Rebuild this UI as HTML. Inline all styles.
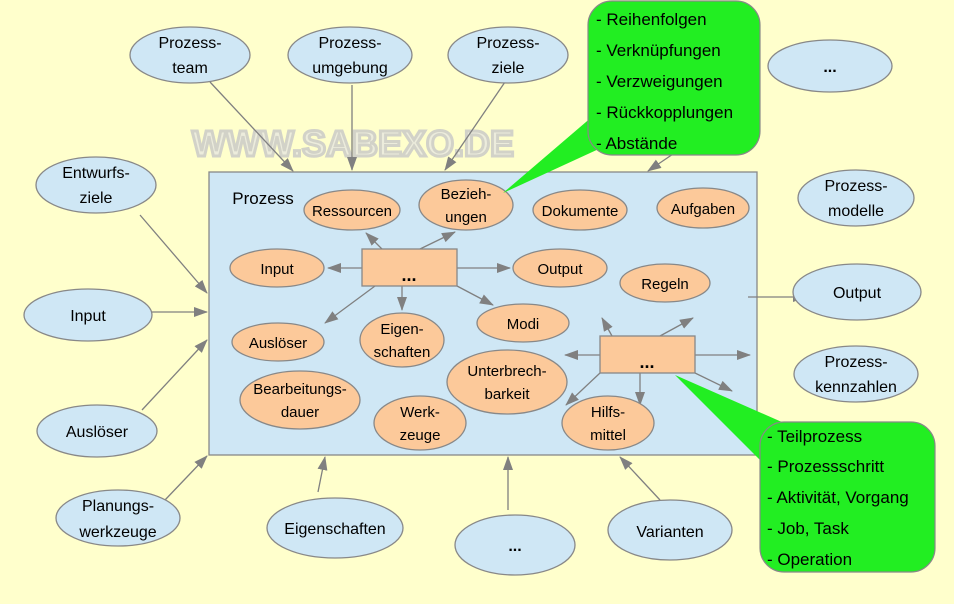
<!DOCTYPE html>
<html><head><meta charset="utf-8"><style>
html,body{margin:0;padding:0;background:#ffffcc}
svg{display:block}
text{font-family:"Liberation Sans",sans-serif;font-size:16px;fill:#000;text-anchor:middle}
.c{fill:#cfe7f5;stroke:#888;stroke-width:1.3}
.o{fill:#fcc99a;stroke:#888;stroke-width:1.3}
.a{stroke:#808080;stroke-width:1.3;fill:none;marker-end:url(#ah)}
.g text{text-anchor:start;font-size:17px}
.s{font-size:15px}
</style></head><body>
<svg width="954" height="604" viewBox="0 0 954 604" xmlns="http://www.w3.org/2000/svg">
<defs><marker id="ah" markerWidth="14" markerHeight="10" refX="13" refY="5" orient="auto" markerUnits="userSpaceOnUse"><path d="M0,0 L14,5 L0,10 z" fill="#808080"/></marker></defs>
<rect width="954" height="604" fill="#ffffcc"/>
<text x="192" y="156" textLength="322" lengthAdjust="spacingAndGlyphs" style="text-anchor:start;font-size:36px;font-weight:bold;fill:#ececdc;stroke:#d2d2c8;stroke-width:3">WWW.SABEXO.DE</text>
<rect x="209" y="172" width="548" height="283" fill="#cfe7f5" stroke="#888" stroke-width="1.3"/>
<!-- outer arrows -->
<line class="a" x1="210" y1="82" x2="293" y2="171"/>
<line class="a" x1="352" y1="85" x2="352" y2="170"/>
<line class="a" x1="505" y1="82" x2="445" y2="170"/>
<line class="a" x1="760" y1="95" x2="648" y2="171"/>
<line class="a" x1="140" y1="215" x2="207" y2="293"/>
<line class="a" x1="150" y1="312" x2="207" y2="312"/>
<line class="a" x1="142" y1="410" x2="207" y2="340"/>
<line class="a" x1="165" y1="500" x2="207" y2="456"/>
<line class="a" x1="318" y1="492" x2="325" y2="457"/>
<line class="a" x1="508" y1="510" x2="508" y2="457"/>
<line class="a" x1="660" y1="500" x2="620" y2="457"/>
<line class="a" x1="748" y1="297" x2="806" y2="297"/>
<!-- outer clouds -->
<ellipse class="c" cx="190" cy="55" rx="60" ry="28"/><text x="190" y="48">Prozess-</text><text x="190" y="73">team</text>
<ellipse class="c" cx="350" cy="55" rx="62" ry="28"/><text x="350" y="48">Prozess-</text><text x="350" y="73">umgebung</text>
<ellipse class="c" cx="508" cy="55" rx="60" ry="28"/><text x="508" y="48">Prozess-</text><text x="508" y="73">ziele</text>
<ellipse class="c" cx="830" cy="66" rx="62" ry="26"/><text x="830" y="72" style="font-weight:bold">...</text>
<ellipse class="c" cx="96" cy="185" rx="60" ry="28"/><text x="96" y="178">Entwurfs-</text><text x="96" y="203">ziele</text>
<ellipse class="c" cx="88" cy="315" rx="64" ry="26"/><text x="88" y="321">Input</text>
<ellipse class="c" cx="97" cy="431" rx="60" ry="26"/><text x="97" y="437">Auslöser</text>
<ellipse class="c" cx="118" cy="518" rx="62" ry="28"/><text x="118" y="511">Planungs-</text><text x="118" y="537">werkzeuge</text>
<ellipse class="c" cx="335" cy="528" rx="68" ry="30"/><text x="335" y="534">Eigenschaften</text>
<ellipse class="c" cx="515" cy="545" rx="60" ry="30"/><text x="515" y="551" style="font-weight:bold">...</text>
<ellipse class="c" cx="670" cy="530" rx="62" ry="30"/><text x="670" y="537">Varianten</text>
<ellipse class="c" cx="856" cy="198" rx="58" ry="28"/><text x="856" y="191">Prozess-</text><text x="856" y="216">modelle</text>
<ellipse class="c" cx="857" cy="292" rx="64" ry="28"/><text x="857" y="298">Output</text>
<ellipse class="c" cx="856" cy="374" rx="62" ry="28"/><text x="856" y="367">Prozess-</text><text x="856" y="392">kennzahlen</text>
<!-- inner arrows -->
<line class="a" x1="382" y1="249" x2="366" y2="233"/>
<line class="a" x1="420" y1="249" x2="455" y2="232"/>
<line class="a" x1="362" y1="268" x2="328" y2="268"/>
<line class="a" x1="457" y1="268" x2="510" y2="268"/>
<line class="a" x1="402" y1="286" x2="402" y2="310"/>
<line class="a" x1="375" y1="286" x2="325" y2="323"/>
<line class="a" x1="457" y1="286" x2="493" y2="305"/>
<line class="a" x1="612" y1="336" x2="602" y2="318"/>
<line class="a" x1="660" y1="336" x2="693" y2="318"/>
<line class="a" x1="695" y1="355" x2="750" y2="355"/>
<line class="a" x1="600" y1="355" x2="565" y2="355"/>
<line class="a" x1="695" y1="373" x2="732" y2="391"/>
<line class="a" x1="600" y1="373" x2="566" y2="405"/>
<line class="a" x1="640" y1="373" x2="640" y2="405"/>
<!-- inner clouds -->
<g class="s">
<ellipse class="o" cx="352" cy="210" rx="48" ry="20"/><text class="s" x="352" y="216">Ressourcen</text>
<ellipse class="o" cx="466" cy="205" rx="47" ry="25"/><text class="s" x="466" y="199">Bezieh-</text><text class="s" x="466" y="222">ungen</text>
<ellipse class="o" cx="580" cy="210" rx="47" ry="20"/><text class="s" x="580" y="216">Dokumente</text>
<ellipse class="o" cx="703" cy="208" rx="46" ry="20"/><text class="s" x="703" y="214">Aufgaben</text>
<ellipse class="o" cx="277" cy="268" rx="47" ry="19"/><text class="s" x="277" y="274">Input</text>
<ellipse class="o" cx="560" cy="268" rx="47" ry="19"/><text class="s" x="560" y="274">Output</text>
<ellipse class="o" cx="665" cy="283" rx="45" ry="19"/><text class="s" x="665" y="289">Regeln</text>
<ellipse class="o" cx="278" cy="342" rx="46" ry="19"/><text class="s" x="278" y="348">Auslöser</text>
<ellipse class="o" cx="402" cy="340" rx="42" ry="27"/><text class="s" x="402" y="334">Eigen-</text><text class="s" x="402" y="357">schaften</text>
<ellipse class="o" cx="523" cy="323" rx="46" ry="19"/><text class="s" x="523" y="329">Modi</text>
<ellipse class="o" cx="300" cy="400" rx="60" ry="29"/><text class="s" x="300" y="394">Bearbeitungs-</text><text class="s" x="300" y="417">dauer</text>
<ellipse class="o" cx="507" cy="382" rx="60" ry="32"/><text class="s" x="507" y="376">Unterbrech-</text><text class="s" x="507" y="399">barkeit</text>
<ellipse class="o" cx="420" cy="423" rx="46" ry="27"/><text class="s" x="420" y="417">Werk-</text><text class="s" x="420" y="440">zeuge</text>
<ellipse class="o" cx="608" cy="423" rx="46" ry="27"/><text class="s" x="608" y="417">Hilfs-</text><text class="s" x="608" y="440">mittel</text>
</g>
<rect x="362" y="249" width="95" height="37" fill="#fcc99a" stroke="#888" stroke-width="1.3"/><text x="409" y="281" style="font-size:18px;font-weight:bold">...</text>
<rect x="600" y="336" width="95" height="37" fill="#fcc99a" stroke="#888" stroke-width="1.3"/><text x="647" y="368" style="font-size:18px;font-weight:bold">...</text>
<text x="263" y="204" style="font-size:17px">Prozess</text>
<!-- callouts -->
<polygon points="600,110 640,130 503,193" fill="#22ee22"/>
<rect x="588" y="1" width="172" height="154" rx="24" fill="#22ee22" stroke="#888" stroke-width="1.2"/>
<g class="g"><text x="596" y="25">- Reihenfolgen</text><text x="596" y="56">- Verknüpfungen</text><text x="596" y="87">- Verzweigungen</text><text x="596" y="118">- Rückkopplungen</text><text x="596" y="149">- Abstände</text></g>
<polygon points="675,375 800,430 770,470" fill="#22ee22"/>
<rect x="760" y="422" width="175" height="150" rx="24" fill="#22ee22" stroke="#888" stroke-width="1.2"/>
<g class="g"><text x="767" y="442">- Teilprozess</text><text x="767" y="472">- Prozessschritt</text><text x="767" y="503">- Aktivität, Vorgang</text><text x="767" y="534">- Job, Task</text><text x="767" y="565">- Operation</text></g>
</svg>
</body></html>
